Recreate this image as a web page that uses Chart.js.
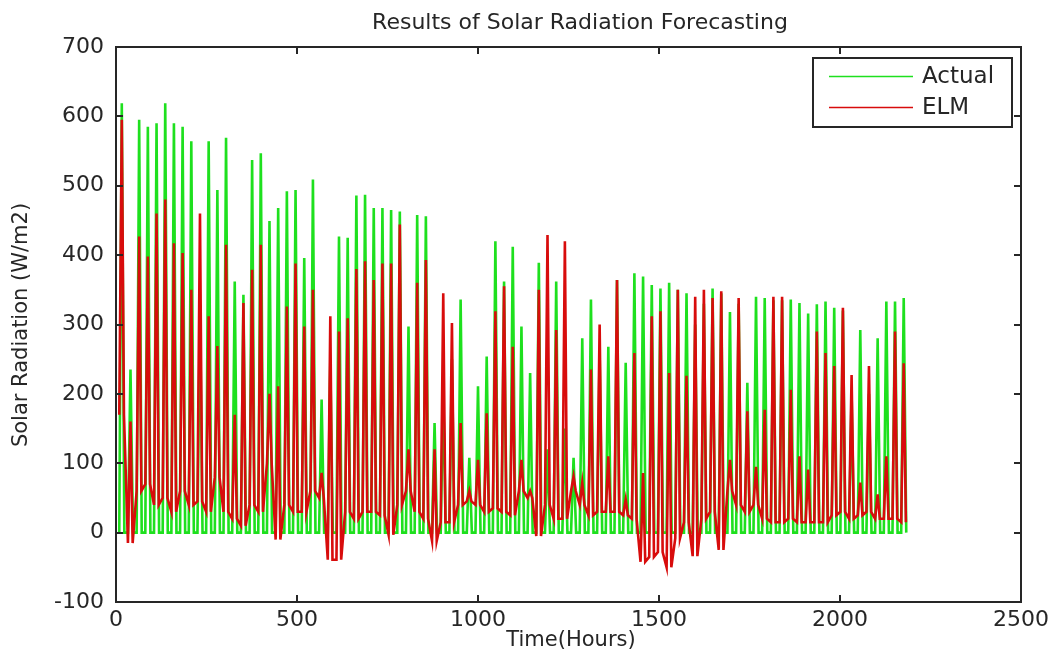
<!DOCTYPE html>
<html>
<head>
<meta charset="utf-8">
<script src="https://cdn.jsdelivr.net/npm/chart.js@4.4.1/dist/chart.umd.min.js"></script>
<style>
  html, body { margin: 0; padding: 0; background: #ffffff; }
  #wrap { width: 1054px; height: 660px; }
</style>
</head>
<body>
<div id="wrap"><canvas id="c" width="1054" height="660"></canvas></div>
<script>
// ---- Data (one value per day, 91 days of hourly data) ----
const seriesNames = ["Actual", "ELM"];
const hoursPerDay = 24;
const peakHour = 16;          // hour of the day at which the daily peak occurs
// Daily peak of measured radiation (W/m2)
const actualPeak = [
  619, 235, 595, 585, 590, 619, 590, 585, 564, 330,
  564, 494, 569, 362, 343, 537, 547, 449, 468, 492,
  494, 396, 509, 192, 246, 427, 425, 486, 487, 468,
  468, 465, 463, 297, 458, 456, 158, 206, 250, 336,
  108, 211, 254, 420, 362, 412, 297, 230, 389, 120,
  362, 150, 108, 280, 336, 260, 268, 364, 245, 374,
  369, 357, 352, 360, 350, 345, 300, 330, 352, 345,
  318, 330, 216, 340, 338, 335, 335, 336, 331, 316,
  329, 333, 324, 320, 200, 292, 200, 280, 333, 333,
  338
];
// Daily peak of the ELM forecast (W/m2)
const elmPeak = [
  595, 160, 427, 398, 460, 480, 417, 403, 350, 460,
  312, 269, 415, 170, 331, 379, 415, 200, 211, 326,
  388, 297, 350,  86, 312, 290, 309, 380, 391, 364,
  388, 388, 444, 120, 360, 393, 120, 345, 302, 158,
   60, 105, 172, 319, 355, 268, 105,  60, 350, 429,
  292, 420,  81,  72, 235, 300, 110, 364,  48, 259,
   86, 312, 319, 230, 350, 226, 340, 350, 338, 348,
  105, 338, 175,  95, 177, 340, 340, 206, 110,  91,
  290, 259, 240, 324, 227,  72, 240,  55, 110, 290,
  244
];
// Night-time level of the ELM forecast for each day (W/m2, can be negative)
const elmNight = [
  170, -15,  60,  70,  40,  50,  30,  60,  40,  45,
   30,  80,  30,  20,  10,  40,  30, 100, -10,  40,
   30,  30,  60,  50, -39, -39,  30,  20,  30,  30,
   25,  -3,  40,  60,  30,  20, -12,  15,  15,  40,
   45,  40,  30,  35,  30,  25,  60,  50,  -5,  40,
   20,  20,  60,  40,  25,  30,  30,  30,  25,  20,
  -42, -35, -28, -50,  -8,  15, -34,  20,  30, -25,
   60,  40,  30,  40,  20,  15,  15,  20,  15,  15,
   15,  15,  25,  30,  20,  25,  30,  20,  20,  20,
   15
];
const xTicks = [0, 500, 1000, 1500, 2000, 2500];
const yTicks = [-100, 0, 100, 200, 300, 400, 500, 600, 700];

// ---- Build the hourly point lists ----
const actualPts = [];
const elmPts = [];
actualPeak.forEach((p, d) => {
  const base = d * hoursPerDay;
  actualPts.push({x: base + peakHour - 7, y: 0});
  actualPts.push({x: base + peakHour, y: p});
  actualPts.push({x: base + peakHour + 7, y: 0});
});
elmPeak.forEach((p, d) => {
  const base = d * hoursPerDay;
  elmPts.push({x: base + peakHour - 7, y: elmNight[d]});
  elmPts.push({x: base + peakHour, y: p});
  elmPts.push({x: base + peakHour + 6, y: elmNight[d]});
});

const GREEN = '#1ee01e';
const RED = '#d80c0c';
const INK = '#262626';
const FONT = '"DejaVu Sans", sans-serif';

const matlabFrame = {
  id: 'matlabFrame',
  afterDatasetsDraw(chart) {
    const {ctx, chartArea: a, scales: {x, y}} = chart;
    ctx.save();
    ctx.strokeStyle = INK;
    ctx.lineWidth = 2;
    ctx.beginPath();
    const L = Math.round(a.left), R = Math.round(a.right);
    const T = Math.round(a.top), B = Math.round(a.bottom);
    ctx.rect(L, T, R - L, B - T);
    const tl = 7;
    xTicks.forEach(v => {
      const px = Math.round(x.getPixelForValue(v));
      ctx.moveTo(px, B); ctx.lineTo(px, B - tl);
      ctx.moveTo(px, T); ctx.lineTo(px, T + tl);
    });
    yTicks.forEach(v => {
      const py = Math.round(y.getPixelForValue(v));
      ctx.moveTo(L, py); ctx.lineTo(L + tl, py);
      ctx.moveTo(R, py); ctx.lineTo(R - tl, py);
    });
    ctx.stroke();

    // legend box (MATLAB style, inside the axes, top right)
    const lx = 813, ly = 58, lw = 199, lh = 69;
    ctx.fillStyle = '#ffffff';
    ctx.fillRect(lx, ly, lw, lh);
    ctx.lineWidth = 2;
    ctx.strokeRect(lx, ly, lw, lh);
    const rows = [{name: seriesNames[0], color: GREEN, yy: 76}, {name: seriesNames[1], color: RED, yy: 107}];
    ctx.font = '23px ' + FONT;
    ctx.textAlign = 'left';
    ctx.textBaseline = 'middle';
    rows.forEach(r => {
      ctx.strokeStyle = r.color;
      ctx.lineWidth = 1.5;
      ctx.beginPath();
      ctx.moveTo(829, r.yy + 0.5); ctx.lineTo(913, r.yy + 0.5);
      ctx.stroke();
      ctx.fillStyle = INK;
      ctx.fillText(r.name, 922, r.yy + 1);
    });

    // titles
    ctx.fillStyle = INK;
    ctx.textAlign = 'center';
    ctx.font = '22px ' + FONT;
    ctx.fillText('Results of Solar Radiation Forecasting', 580, 23);
    ctx.font = '21px ' + FONT;
    ctx.fillText('Time(Hours)', 571, 641);
    ctx.translate(22, 325);
    ctx.rotate(-Math.PI / 2);
    ctx.fillText('Solar Radiation (W/m2)', 0, 0);
    ctx.restore();
  }
};

new Chart(document.getElementById('c'), {
  type: 'line',
  data: {
    datasets: [
      {label: seriesNames[0], data: actualPts, borderColor: GREEN, borderWidth: 2.6, pointRadius: 0, tension: 0, order: 1},
      {label: seriesNames[1], data: elmPts, borderColor: RED, borderWidth: 2.6, pointRadius: 0, tension: 0, order: 0}
    ]
  },
  options: {
    responsive: false,
    animation: false,
    events: [],
    layout: {padding: {top: 47, right: 29, left: 0, bottom: 0}},
    scales: {
      x: {
        type: 'linear', min: 0, max: 2500,
        afterBuildTicks: s => { s.ticks = xTicks.map(v => ({value: v})); },
        ticks: {font: {family: FONT, size: 22}, color: INK, padding: 5, maxRotation: 0, autoSkip: false,
                callback: v => String(v)},
        grid: {display: false, drawTicks: false},
        border: {display: false},
        afterFit: s => { s.height = 58; }
      },
      y: {
        type: 'linear', min: -100, max: 700,
        afterBuildTicks: s => { s.ticks = yTicks.map(v => ({value: v})); },
        ticks: {font: {family: FONT, size: 22}, color: INK, padding: 12, autoSkip: false,
                callback: v => String(v)},
        grid: {display: false, drawTicks: false},
        border: {display: false},
        afterFit: s => { s.width = 116; }
      }
    },
    plugins: {legend: {display: false}, tooltip: {enabled: false}, title: {display: false}}
  },
  plugins: [matlabFrame]
});
</script>
</body>
</html>
